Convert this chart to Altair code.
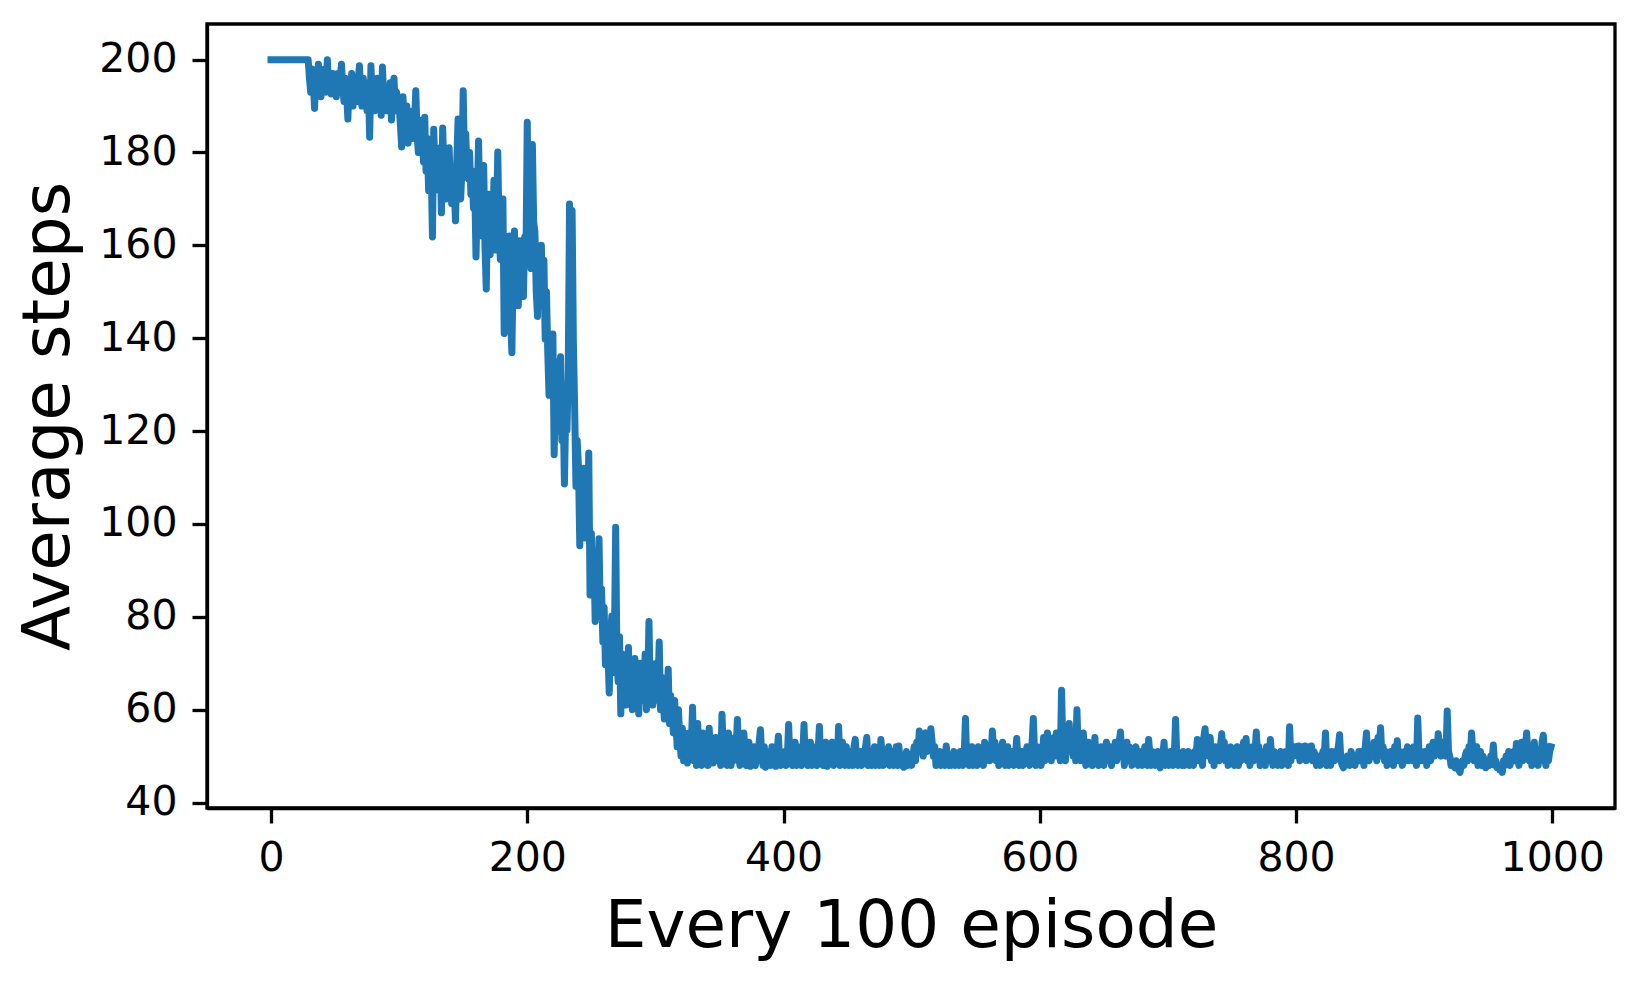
import altair as alt
import pandas as pd

# Average steps per point (index = episode block)
seg_000 = [200]*30 + [196,193,198,195,189.5,197,194,199,196,192,197,195,198,193,200,194,196,192.6,197,195]
seg_050 = [195,192,197,193,196,199,194,191,196,193,187.2,195,192,197,190,194,196,191,195,198.7,
           193,190,196,192,194,189,195,183.3,198.7,191,194,189,193,196,190,192,188,198.4,191,194,
           189,193,190,195,187,192,196,189,193,190]
seg_100 = [190,186,181.2,192,187,184,190,182,188,185,183,189,186,193.3,184,180,187,182,185,178,
           187.6,176,183,171.8,180,177,161.8,185,176,179,172,174,181,167,185.3,175,178,170,176,181,
           174,169,177,172,165.3,178,187.2,173,170,176]
seg_150 = [193.3,178,184,175,174.3,180,171,176,168,173,157.5,170,182.5,166,172,162,177.2,160,150.6,168,
           171,158,165,161,174,159,166,180.1,163,157,168,170,141,160,152,148,162,145,136.9,155,
           163.1,150,158,147,161,152,156,149,161.8,158]
seg_200 = [186.5,160,175,155,181.7,165,162.9,150,144.7,158,152,160,148,156.8,139.8,150,137,127.7,138,132,
           140.9,114.9,130,124,135,120,136,118,126,108.6,124,120.2,133,168.9,150,167.5,139.2,125,108.1,118,
           112,95.3,110,102,112,97,105,100,115.3,84.7]
seg_250 = [98,88,94,79,90,84,96.8,80,86,74.6,82,69.7,78,72,63.6,76,80.2,68,74,99.3,
           70,66,75.7,59.1,72,64,70,61,68,73.4,62,69,60,66,71,63,67,59.1,70,62,
           68,64,72,60,66,79,63,70,61,67]
seg_300 = [62,70,65,74.6,60,67,63,58,66,61,68.7,57,63,59.9,55,62,57,52,60,54,
           50,56,49,53,51,48.5,55,50,52,60.5,49,54,48,57,50,53,48,55,51,49,
           52,48,56,50,53,48.5,51,54,49,52]
seg_350 = [50,48,59,51,49,53,48,55,50,48,52,49,54,51,57.9,50,48,53,49,55,
           51,48,50,53,47.8,51,49,52,48,50,49,53,55.7,50,48,52,47.6,51,49,50,
           48,52,49,50,47.8,51,54.3,49,48,50]
seg_400 = [49,51,48,50,56.8,49,52,48,50,53,48,51,49,52,48,50,56.8,49,52,48,
           51,53,48,50,49,52,48,51,56.4,49,52,48,50,53,47.8,51,49,50,53,48,
           50,52,49,56.4,48,51,53,49,48,52]
seg_450 = [49,48,51,50,48,52,53.6,49,48,50,51,48,50,49,52,54,48,50,51,48,
           50,52,48,49,51,48,53.6,50,48,51,49,50,52,48,49,51,48,50,52,48,
           52.2,49,48,50,47.6,49,51,48,49,50]
seg_500 = [48,50,52,49,53,51,55.4,52,54,50,53,55,51,54,52,55.9,53,50,52,48,
           50,49,51,48,50,49,48,52.2,49,48,50,48,49,51,48,50,49,48,51,49,
           48,50,58.1,49,51,48,50,52,48,49]
seg_550 = [50,48,52,49,51,50,48,53,49,51,52,49,50,55.4,51,53,49,52,48,50,
           51,53,49,48,50,52,48,49,51,50,48,50,53.8,49,48,50,51,48,49,50,
           52,49,48,51,53,58.1,50,48,52,49]
seg_600 = [51,48,50,54,49,52,55,50,53,49,52,54,50,55,51,53,49,64.2,52,50,
           49,55,53,57,51,54,50,53,49,60,51,54,49,52,55,50,48,51,53,49,
           52,48,50,54,49,51,48,50,52,49]
seg_650 = [48,51,53,49,50,52,48,51,50,53,49,51,53,55.2,50,52,48,51,53,49,
           52,50,48,51,49,52,50,48,51,49,48,50,52,49,48,53.6,50,48,51,49,
           48,50,51,48,47.5,49,50,53,48,49]
seg_700 = [50,48,51,49,48,50,57.9,49,48,50,49,48,51,48,50,49,51,48,50,49,
           48,51,50,53.6,49,52,50,48,54,55.9,51,53,50,54,49,51,48,52,50,51,
           49,52,54.8,51,53,49,50,48,51,52]
seg_750 = [49,51,48,50,52,48,50,49,51,53,50,53.8,49,51,48,50,52,49,51,55.2,
           50,52,48,51,49,50,48,52,51,49,53.6,50,48,51,49,50,48,49,51,48,
           50,49,51,50,48,56.3,49,51,50,52]
seg_800 = [52,50,52.2,49,51,52,50,52.2,49,51,52,50,52.2,49,51,50,48,49,50,48,
           49,51,50,55,48,50,49,48,51,50,49,51,50,52,54.6,49,48,47.5,49,48,
           50,49,48,51,50,49,48,50,49,51]
seg_850 = [49,51,50,48,52,55,50,49,51,52,50,53,51,49,54,52,56.1,50,52,49,
           51,48,50,49,51,50,48,52,50,53.3,49,51,50,48,49,51,50,52,49,51,
           50,49,52,50,48,58.2,50,49,51,50]
seg_900 = [49,51,48,50,52,49,51,53,50,52,51,54.8,52,50,53,51,52,50,59.7,51,
           50,48,49,48,47.5,49,48,47,46.5,48,49,48,50,51,49,52,50,55,51,49,
           50,52,48,49,51,48,50,49,47.5,48]
seg_950 = [49,48,50,49,52.4,48,49,47.5,48,47,48,46.5,49,48,50,49,51,48,50,49,
           51,49,52.7,50,48,51,53,49,50,52,55,50,49,52,48,51,53,49,50,48,
           51,49,53,54.5,50,48,52,49,51,52]

avg_steps = (seg_000 + seg_050 + seg_100 + seg_150 + seg_200 + seg_250 + seg_300 + seg_350 +
             seg_400 + seg_450 + seg_500 + seg_550 + seg_600 + seg_650 + seg_700 + seg_750 +
             seg_800 + seg_850 + seg_900 + seg_950)
episodes = list(range(len(avg_steps)))

x_ticks = [0, 200, 400, 600, 800, 1000]
y_ticks = [40, 60, 80, 100, 120, 140, 160, 180, 200]

df = pd.DataFrame({"episode": episodes, "steps": avg_steps})

FONT = "DejaVu Sans"
chart = alt.Chart(df).mark_line(
    color="#1f77b4", strokeWidth=7, strokeJoin="round", strokeCap="square"
).encode(
    x=alt.X("episode:Q",
            scale=alt.Scale(domain=[-49.95, 1048.95], nice=False, zero=False),
            axis=alt.Axis(values=x_ticks, format="d", title="Every 100 episode", grid=False,
                          labelFontSize=41, labelFont=FONT, labelColor="black",
                          labelPadding=15, tickSize=15, tickWidth=3.3, tickColor="black",
                          domainColor="black", domainWidth=3.3,
                          titleFont=FONT, titleFontSize=66, titleFontWeight="normal",
                          titleColor="black", titleBaseline="alphabetic", titleY=138)),
    y=alt.Y("steps:Q",
            scale=alt.Scale(domain=[38.825, 207.675], nice=False, zero=False),
            axis=alt.Axis(values=y_ticks, format="d", title="Average steps", grid=False,
                          labelFontSize=41, labelFont=FONT, labelColor="black",
                          labelPadding=15, tickSize=15, tickWidth=3.3, tickColor="black",
                          domainColor="black", domainWidth=3.3,
                          titleFont=FONT, titleFontSize=66, titleFontWeight="normal",
                          titleColor="black", titleBaseline="alphabetic", titleX=-139)),
).properties(
    width=1408, height=784,
    background="white",
    padding={"left": 199, "top": 16, "right": 7, "bottom": 165},
    autosize=alt.AutoSizeParams(type="none"),
).configure_view(stroke="black", strokeWidth=3.3)

chart.save("out.html", embed_options={"renderer": "svg", "actions": False})
